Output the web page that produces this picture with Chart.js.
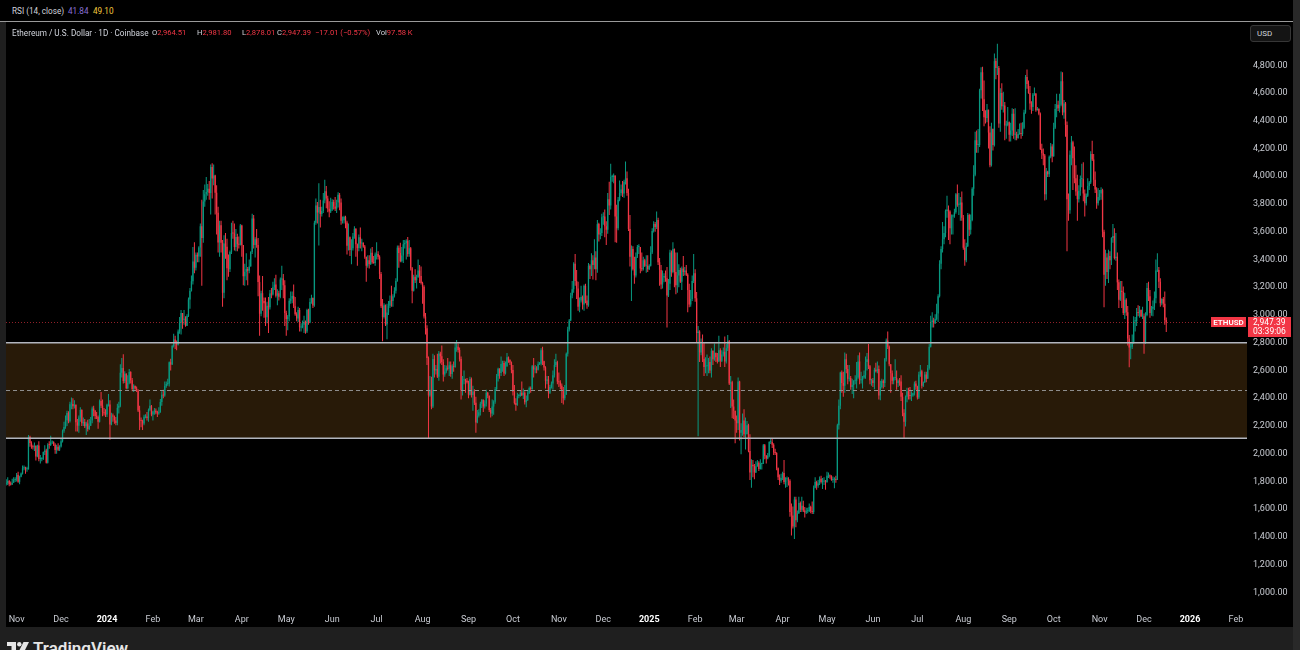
<!DOCTYPE html>
<html lang="en">
<head>
<meta charset="UTF-8" />
<title>Ethereum / U.S. Dollar - 1D</title>
<script src="https://cdn.jsdelivr.net/npm/chart.js"></script>
<style>
  html, body { margin: 0; padding: 0; background: #000; }
  body { width: 1300px; height: 650px; position: relative; overflow: hidden;
         font-family: Roboto, "Liberation Sans", sans-serif; }
  #wrap { position: absolute; left: 6px; top: 22px; width: 1287px; height: 605px; }
  .frame { position: absolute; background: #1f1f1f; }
  .txt { position: absolute; white-space: nowrap; font-size: 8.2px; line-height: 10px; color: #d1d4dc; }
  .val { font-size: 7.6px; }
  .red { color: #f23645; }
  #usd { position: absolute; left: 1250px; top: 25px; width: 33px; height: 15px; background: #141414;
         border: 1px solid #363636; border-radius: 3px; color: #d1d4dc; font-size: 8px; line-height: 15px;
         padding-left: 6px; }
  #logo { position: absolute; left: 7px; top: 640px; color: #e6e6e6; font-size: 17px; font-weight: 600;
          line-height: 17px; white-space: nowrap; }
  #logo svg { vertical-align: top; margin-top: 2px; margin-right: 4px; }
</style>
</head>
<body>
  <!-- RSI pane header -->
  <div class="txt" style="left:12px;top:6px">RSI (14, close)</div>
  <div class="txt" style="left:68px;top:6px;color:#8a70d6">41.84</div>
  <div class="txt" style="left:93px;top:6px;color:#f2c83c">49.10</div>
  <div class="frame" style="left:0;top:21px;width:1293px;height:1px;background:#9a9a9a"></div>

  <div class="frame" style="left:0;top:22px;width:6px;height:605px"></div>
  <div class="frame" style="left:1293px;top:0;width:7px;height:650px;background:#292929"></div>
  <div class="frame" style="left:0;top:627px;width:1293px;height:23px"></div>

  <div id="wrap"><canvas id="chart" width="1287" height="605"></canvas></div>

  <!-- legend -->
  <div class="txt" style="left:12px;top:28px">Ethereum / U.S. Dollar · 1D · Coinbase</div>
  <div class="txt val" style="left:152px;top:28px">O<span class="red">2,964.51</span></div>
  <div class="txt val" style="left:197px;top:28px">H<span class="red">2,981.80</span></div>
  <div class="txt val" style="left:242px;top:28px">L<span class="red">2,878.01</span></div>
  <div class="txt val" style="left:277px;top:28px">C<span class="red">2,947.39</span></div>
  <div class="txt val red" style="left:315px;top:28px">−17.01 (−0.57%)</div>
  <div class="txt val" style="left:376px;top:28px">Vol<span class="red">97.58 K</span></div>
  <div id="usd">USD</div>

  <div id="logo"><svg width="22" height="13" viewBox="0 0 22 13"><path d="M0 0h9v12h-4.5v-8h-4.5z" fill="#e6e6e6"/><circle cx="12.3" cy="2.2" r="2.2" fill="#e6e6e6"/><path d="M16.5 0h5.5l-6 12h-5.5z" fill="#e6e6e6"/></svg>TradingView</div>

<script>
  // daily candles, first one is 2023-10-25 (UTC); open of a day = close of the day before
  const startDate = Date.UTC(2023, 9, 25);
  const firstOpen = 1784;

  const closes = [
    1787,1803,1780,1777,1791,1810,1815, // 2023-10
    1847,1797,1833,1857,1895,1900,1887,1887,2122,2077,2053,2046,2055,1980,2059,1961,1961,1963,2012,2023,1934,2063,2062,2081,2084,2064,2027,2049,2029,2052, // 2023-11
    2089,2165,2192,2241,2293,2233,2357,2358,2341,2352,2226,2202,2260,2315,2220,2228,2197,2217,2177,2201,2240,2326,2310,2272,2265,2230,2379,2346,2299,2292,2282, // 2023-12
    2352,2355,2210,2269,2268,2240,2221,2331,2345,2584,2618,2524,2577,2472,2511,2588,2529,2467,2490,2469,2455,2312,2241,2236,2218,2267,2268,2257,2316,2345,2282, // 2024-01
    2304,2309,2297,2290,2298,2373,2424,2420,2487,2503,2506,2659,2642,2776,2823,2803,2786,2880,2944,3014,2966,2970,2922,2992,3112,3175,3243,3385,3340, // 2024-02
    3434,3421,3487,3640,3555,3818,3870,3887,3910,3879,4066,3984,4005,3881,3736,3523,3646,3520,3160,3516,3492,3336,3329,3454,3590,3588,3490,3562,3510,3506,3645, // 2024-03
    3505,3279,3311,3331,3319,3350,3454,3695,3505,3545,3505,3237,3009,3157,3101,3085,2984,3066,3055,3155,3147,3200,3219,3139,3156,3131,3255,3263,3215,3015, // 2024-04
    2970,2988,3103,3117,3137,3063,3005,2975,3036,2910,2912,2929,2951,2881,3035,2945,3093,3122,3069,3664,3790,3738,3779,3728,3749,3826,3892,3840,3766,3745,3761, // 2024-05
    3815,3781,3766,3810,3866,3810,3680,3683,3706,3667,3499,3560,3469,3481,3566,3621,3509,3482,3561,3515,3519,3494,3419,3354,3394,3368,3449,3380,3375,3435, // 2024-06
    3440,3420,3296,3063,2985,3070,2931,3018,3066,3102,3100,3135,3175,3245,3485,3446,3389,3428,3510,3518,3535,3440,3481,3337,3174,3276,3250,3270,3320,3280,3230, // 2024-07
    3203,2989,2905,2690,2420,2460,2340,2682,2600,2610,2555,2723,2703,2661,2570,2592,2615,2612,2637,2575,2630,2625,2765,2770,2748,2682,2457,2529,2529,2525,2515, // 2024-08
    2425,2538,2423,2449,2367,2225,2274,2298,2359,2389,2340,2360,2439,2418,2315,2290,2340,2374,2465,2560,2612,2581,2646,2653,2578,2632,2695,2675,2658,2603, // 2024-09
    2447,2365,2350,2415,2415,2440,2421,2440,2371,2386,2440,2474,2466,2630,2606,2612,2605,2645,2648,2746,2666,2621,2525,2535,2440,2480,2505,2565,2640,2660,2520, // 2024-10
    2515,2490,2460,2400,2425,2720,2895,2960,3140,3185,3370,3245,3190,3060,3105,3130,3075,3210,3105,3070,3355,3330,3395,3360,3415,3330,3655,3580,3590,3705, // 2024-11
    3710,3640,3615,3835,3790,3995,3995,4005,3710,3625,3830,3880,3905,3875,3960,3985,3880,3620,3420,3475,3330,3285,3420,3490,3490,3335,3330,3395,3355,3355,3330, // 2024-12
    3355,3450,3605,3655,3635,3685,3380,3325,3220,3270,3280,3265,3140,3225,3450,3310,3475,3310,3215,3285,3325,3240,3335,3310,3320,3290,3180,3075,3115,3245,3300, // 2025-01
    3120,2870,2880,2730,2790,2685,2625,2630,2630,2660,2600,2740,2680,2725,2695,2665,2745,2670,2715,2735,2665,2760,2810,2505,2515,2340,2310,2240, // 2025-02
    2220,2520,2150,2170,2240,2140,2140,2205,2020,1865,1920,1910,1865,1910,1935,1890,1925,1930,2060,1985,1965,1985,2085,2085,2065,2010,2005,1895,1830,1805,1825, // 2025-03
    1860,1795,1815,1815,1805,1580,1555,1475,1670,1520,1570,1645,1595,1625,1590,1575,1585,1585,1615,1585,1580,1755,1795,1770,1785,1820,1795,1800,1800,1795, // 2025-04
    1840,1840,1835,1810,1815,1815,1810,2205,2345,2585,2510,2490,2680,2610,2540,2545,2480,2495,2525,2525,2550,2665,2530,2530,2550,2565,2660,2680,2630,2530,2530, // 2025-05
    2510,2605,2595,2610,2420,2480,2525,2510,2680,2815,2770,2645,2580,2525,2545,2545,2510,2525,2520,2410,2295,2230,2410,2450,2420,2415,2420,2435,2505,2485, // 2025-06
    2405,2570,2595,2490,2515,2570,2540,2615,2770,2950,2960,2940,2970,3010,3135,3370,3475,3545,3590,3750,3760,3745,3625,3710,3715,3740,3870,3795,3795,3810,3700, // 2025-07
    3485,3395,3495,3720,3615,3685,3910,4010,4260,4225,4225,4620,4750,4555,4425,4420,4480,4315,4080,4340,4225,4830,4780,4780,4380,4600,4505,4510,4365,4370,4390, // 2025-08
    4300,4330,4450,4300,4300,4275,4305,4310,4305,4350,4460,4715,4665,4600,4525,4500,4590,4595,4475,4485,4450,4195,4165,4150,3870,4035,4015,4140,4215,4145, // 2025-09
    4350,4485,4515,4490,4515,4685,4460,4525,4370,3835,3755,4155,4245,4130,3985,3890,3835,3895,3980,3980,3875,3805,3860,3930,3955,4160,4120,3975,3905,3805,3850, // 2025-10
    3875,3900,3600,3290,3415,3310,3425,3395,3555,3570,3410,3420,3235,3110,3175,3165,3015,3110,3020,2830,2765,2770,2800,2955,2955,3020,3015,3035,2990,2990, // 2025-11
    2800,3000,3195,3135,3015,3045,3060,3120,3320,3325,3240,3085,3115,3080,2964.51,2947.39 // 2025-12
  ];

  const highs = [
    1815,1830,1810,1800,1820,1830,1830,
    1860,1870,1840,1865,1915,1915,1905,1905,2135,2130,2090,2065,2080,2060,2065,2090,1990,1975,2015,2060,2035,2075,2090,2130,2095,2090,2075,2065,2075,2060,
    2105,2175,2230,2275,2310,2305,2375,2405,2400,2385,2355,2250,2275,2335,2320,2260,2250,2230,2245,2250,2265,2340,2345,2315,2300,2275,2390,2445,2390,2330,2320,
    2360,2430,2385,2295,2290,2275,2265,2360,2375,2645,2690,2717,2595,2580,2565,2610,2595,2545,2500,2480,2485,2465,2345,2260,2245,2280,2285,2300,2325,2390,2350,
    2310,2330,2325,2310,2335,2395,2450,2460,2520,2520,2540,2665,2685,2785,2865,2850,2815,2895,2985,3035,3015,3035,2990,3005,3125,3195,3285,3490,3525,
    3450,3450,3495,3660,3830,3900,3940,3995,3945,3965,4085,4093,4085,4010,3935,3780,3680,3680,3540,3575,3590,3550,3435,3465,3665,3680,3660,3620,3585,3565,3655,
    3650,3505,3370,3445,3345,3400,3460,3730,3720,3560,3620,3555,3285,3175,3280,3125,3125,3095,3130,3180,3195,3240,3265,3290,3185,3175,3270,3355,3295,3250,
    3030,3000,3120,3170,3170,3220,3130,3020,3060,3050,2940,2960,2995,2960,3045,3045,3120,3145,3125,3680,3840,3815,3950,3830,3780,3880,3975,3930,3860,3820,3845,
    3835,3830,3850,3830,3885,3880,3840,3710,3715,3715,3680,3660,3565,3545,3590,3640,3625,3515,3580,3630,3550,3525,3505,3420,3430,3430,3480,3490,3425,3450,
    3525,3460,3430,3310,3115,3085,3075,3080,3100,3140,3210,3150,3200,3265,3500,3500,3520,3490,3540,3540,3545,3562,3540,3490,3345,3290,3330,3290,3400,3360,3350,
    3240,3215,3015,2925,2700,2560,2555,2720,2710,2640,2720,2740,2735,2780,2680,2640,2635,2690,2665,2665,2645,2665,2800,2820,2795,2765,2700,2560,2600,2540,2545,
    2525,2555,2550,2490,2465,2410,2315,2320,2375,2395,2390,2385,2460,2445,2420,2330,2390,2385,2480,2575,2620,2615,2700,2670,2670,2665,2725,2700,2680,2665,
    2640,2495,2400,2440,2430,2455,2520,2470,2450,2420,2460,2485,2485,2640,2690,2640,2630,2665,2660,2760,2770,2670,2630,2560,2560,2495,2520,2600,2680,2720,2670,
    2585,2530,2505,2480,2495,2730,2915,2970,3160,3245,3380,3440,3325,3240,3125,3210,3140,3220,3225,3140,3375,3365,3445,3430,3545,3460,3685,3665,3625,3730,
    3740,3760,3675,3880,3960,4090,4010,4020,4005,3795,3850,3970,3940,3965,3975,4107,4035,3910,3720,3500,3495,3420,3450,3505,3510,3490,3450,3420,3405,3430,3430,
    3365,3495,3625,3675,3670,3745,3700,3410,3360,3320,3300,3320,3345,3260,3470,3465,3525,3480,3450,3450,3365,3340,3350,3425,3345,3360,3300,3225,3180,3285,3440,
    3330,3165,2920,2890,2830,2860,2800,2695,2715,2690,2700,2760,2745,2795,2730,2725,2850,2760,2745,2765,2845,2790,2855,2820,2560,2525,2390,2310,
    2275,2550,2525,2220,2290,2320,2260,2235,2215,2140,1960,1955,1925,1945,1955,1945,1960,1935,2070,2070,1990,2005,2090,2105,2105,2075,2035,2010,1900,1850,1855,
    1870,1955,1830,1835,1830,1815,1640,1620,1690,1690,1590,1690,1655,1690,1660,1615,1610,1610,1640,1625,1655,1770,1830,1805,1810,1835,1840,1825,1830,1810,
    1870,1865,1850,1845,1835,1830,1840,2215,2390,2590,2600,2590,2730,2720,2640,2640,2560,2540,2530,2565,2660,2710,2730,2590,2560,2600,2700,2725,2790,2640,2540,
    2545,2620,2655,2665,2635,2525,2540,2535,2690,2830,2880,2780,2645,2600,2555,2680,2600,2535,2545,2565,2440,2320,2420,2475,2475,2480,2450,2440,2520,2525,
    2490,2590,2640,2605,2520,2590,2590,2640,2790,2995,3020,2980,3005,3080,3150,3395,3495,3670,3640,3760,3860,3790,3755,3725,3725,3765,3880,3940,3880,3850,3890,
    3720,3545,3520,3735,3730,3725,3920,4080,4320,4330,4340,4630,4785,4790,4690,4475,4520,4480,4360,4385,4345,4885,4850,4955,4795,4635,4670,4610,4535,4400,4500,
    4395,4385,4490,4485,4490,4320,4340,4380,4385,4390,4480,4730,4770,4690,4650,4540,4600,4640,4600,4500,4490,4460,4235,4200,4160,4060,4040,4150,4240,4230,
    4385,4520,4595,4545,4595,4755,4750,4550,4535,4395,3875,4185,4290,4255,4215,4080,4010,3935,4005,4090,4100,3905,3875,3985,3965,4180,4255,4160,4035,3920,3915,
    3900,3920,3910,3615,3470,3445,3470,3460,3560,3655,3625,3590,3450,3255,3245,3245,3205,3160,3120,3065,2855,2800,2860,2990,2985,3050,3070,3065,3040,3060,
    3010,3020,3230,3240,3180,3065,3105,3170,3400,3445,3345,3265,3120,3130,3170,2981.80
  ];

  const lows = [
    1770,1775,1765,1770,1775,1790,1795,
    1800,1790,1780,1830,1850,1880,1855,1870,1885,2050,2035,2030,2020,1950,1975,1945,1930,1945,1955,1990,1930,1930,2035,2055,2070,2055,2000,2000,2020,2020,
    2045,2080,2150,2180,2200,2220,2225,2320,2320,2325,2160,2160,2150,2230,2200,2200,2185,2135,2160,2170,2200,2220,2270,2250,2250,2180,2225,2330,2270,2275,2265,
    2265,2340,2100,2205,2230,2215,2205,2205,2290,2335,2550,2505,2510,2465,2465,2500,2505,2450,2445,2460,2445,2300,2170,2190,2170,2205,2255,2240,2230,2305,2270,
    2240,2280,2285,2265,2280,2295,2345,2400,2410,2475,2490,2485,2600,2640,2765,2755,2745,2780,2865,2860,2900,2930,2915,2920,2985,3045,3170,3220,3300,
    3320,3380,3380,3420,3210,3520,3780,3830,3860,3830,3725,3840,3935,3725,3580,3450,3420,3450,3060,3120,3405,3250,3275,3310,3440,3550,3465,3460,3460,3480,3500,
    3420,3215,3210,3250,3215,3300,3350,3440,3480,3415,3485,3135,2850,2990,3030,2980,2920,2940,2870,3040,3120,3140,3180,3125,3070,3105,3120,3180,3120,2920,
    2850,2890,2955,3080,3085,3050,2995,2955,2950,2880,2880,2905,2870,2865,2870,2930,2940,3080,3050,3060,3650,3660,3500,3630,3710,3735,3805,3770,3740,3705,3735,
    3750,3760,3750,3735,3775,3755,3650,3660,3660,3625,3435,3465,3425,3365,3465,3550,3420,3355,3460,3480,3460,3485,3405,3240,3340,3335,3360,3370,3370,3355,
    3400,3400,3260,3050,2810,2975,2920,2825,3000,3050,3060,3060,3125,3155,3240,3340,3380,3380,3375,3480,3400,3420,3420,3320,3085,3170,3230,3190,3270,3230,3220,
    3080,2975,2860,2640,2111,2410,2320,2330,2550,2570,2545,2525,2650,2640,2520,2555,2580,2600,2560,2555,2540,2590,2620,2735,2730,2665,2390,2420,2500,2440,2505,
    2400,2420,2405,2310,2350,2150,2220,2260,2275,2330,2300,2325,2340,2400,2300,2260,2270,2280,2360,2455,2520,2540,2560,2590,2560,2570,2625,2655,2640,2580,
    2420,2355,2310,2345,2400,2410,2415,2395,2355,2335,2380,2430,2440,2460,2550,2580,2580,2600,2640,2635,2640,2600,2470,2500,2400,2430,2470,2460,2550,2625,2500,
    2480,2465,2365,2355,2385,2425,2700,2880,2955,3120,3160,3210,3115,3030,3020,3090,3040,3030,3085,3045,3060,3260,3280,3255,3330,3250,3305,3530,3545,3570,
    3650,3560,3505,3585,3720,3760,3960,3950,3525,3520,3610,3820,3860,3850,3845,3940,3860,3605,3350,3100,3320,3225,3270,3410,3440,3300,3315,3320,3345,3305,3310,
    3325,3350,3440,3595,3600,3620,3360,3210,3185,3190,3235,3240,2910,3130,3180,3275,3300,3200,3150,3160,3200,3230,3180,3280,3285,3280,3020,3055,3060,3100,3230,
    3095,2800,2125,2660,2710,2660,2560,2580,2560,2580,2580,2550,2640,2670,2660,2650,2660,2625,2660,2700,2625,2650,2740,2495,2330,2255,2250,2075,
    2150,2170,2095,1995,2130,2120,2030,2140,2010,1810,1755,1830,1815,1860,1905,1875,1885,1885,1925,1960,1930,1960,1975,2070,2040,1990,1990,1880,1810,1775,1790,
    1810,1780,1755,1760,1770,1545,1410,1460,1385,1470,1505,1565,1580,1580,1580,1540,1565,1570,1580,1570,1565,1565,1750,1740,1755,1775,1785,1745,1775,1740,
    1790,1825,1820,1805,1790,1750,1790,1810,2175,2320,2440,2410,2440,2580,2500,2520,2460,2430,2400,2500,2470,2540,2500,2505,2470,2540,2540,2600,2610,2500,2490,
    2480,2465,2585,2580,2390,2385,2470,2470,2480,2665,2755,2630,2440,2500,2500,2530,2460,2480,2490,2380,2270,2112,2195,2370,2390,2390,2380,2410,2420,2460,
    2390,2395,2555,2470,2480,2510,2515,2540,2605,2765,2910,2910,2935,2960,2950,3125,3330,3450,3510,3560,3700,3540,3510,3580,3580,3700,3730,3780,3720,3680,3680,
    3470,3355,3380,3490,3570,3580,3675,3860,4000,4170,4170,4210,4560,4470,4360,4380,4390,4200,4065,4070,4185,4215,4700,4730,4350,4320,4480,4460,4260,4270,4360,
    4250,4250,4290,4270,4260,4260,4270,4300,4270,4290,4340,4450,4630,4595,4480,4450,4470,4580,4465,4475,4440,4190,4125,4080,3825,3830,3995,3995,4130,4100,
    4140,4340,4425,4470,4460,4505,4440,4415,4285,3460,3680,3730,4080,3900,3950,3860,3680,3810,3860,3920,3820,3710,3790,3850,3900,3945,4110,3930,3880,3765,3790,
    3825,3830,3560,3055,3210,3260,3230,3330,3360,3520,3400,3390,3180,3050,3100,3050,3000,2970,2995,2780,2623,2680,2755,2790,2880,2920,2990,2980,2985,2970,
    2720,2790,2990,3100,2980,2995,2990,3035,3085,3310,3195,3060,3070,3055,2930,2878.01
  ];

  const xTickDates = ['2023-11-01','2023-12-01','2024-01-01','2024-02-01','2024-03-01','2024-04-01','2024-05-01',
    '2024-06-01','2024-07-01','2024-08-01','2024-09-01','2024-10-01','2024-11-01','2024-12-01','2025-01-01',
    '2025-02-01','2025-03-01','2025-04-01','2025-05-01','2025-06-01','2025-07-01','2025-08-01','2025-09-01',
    '2025-10-01','2025-11-01','2025-12-01','2026-01-01','2026-02-01'];
  const xTickLabels = ['Nov','Dec','2024','Feb','Mar','Apr','May','Jun','Jul','Aug','Sep','Oct','Nov','Dec','2025',
    'Feb','Mar','Apr','May','Jun','Jul','Aug','Sep','Oct','Nov','Dec','2026','Feb'];
  const yTicks = [1000,1200,1400,1600,1800,2000,2200,2400,2600,2800,3000,3200,3400,3600,3800,4000,4200,4400,4600,4800];

  // support / resistance box drawn on the chart
  const bandTop = 2800;
  const bandBottom = 2112;
  const lastClose = 2947.39;

  const UP = '#089981', DOWN = '#f23645';

  const opens = closes.map((c, i) => (i === 0 ? firstOpen : closes[i - 1]));
  const xTickIdx = xTickDates.map(d => (Date.parse(d) - startDate) / 864e5);
  const colorOf = i => (closes[i] >= opens[i] ? UP : DOWN);
  const fmt = v => v.toLocaleString('en-US', { minimumFractionDigits: 2, maximumFractionDigits: 2 });
  const isYear = i => /^\d{4}$/.test(xTickLabels[i]);

  const overlay = {
    id: 'overlay',
    beforeDatasetsDraw(chart) {
      const { ctx, chartArea: a, scales: { y } } = chart;
      const t = y.getPixelForValue(bandTop), b = y.getPixelForValue(bandBottom);
      ctx.save();
      ctx.fillStyle = '#281a08';
      ctx.fillRect(a.left, t, a.right - a.left, b - t);
      ctx.restore();
    },
    afterDatasetsDraw(chart) {
      const { ctx, chartArea: a, scales: { y } } = chart;
      const t = y.getPixelForValue(bandTop), b = y.getPixelForValue(bandBottom);
      const m = y.getPixelForValue((bandTop + bandBottom) / 2);
      ctx.save();
      ctx.strokeStyle = '#b2b5be';
      ctx.lineWidth = 1.5;
      [t, b].forEach(py => {
        ctx.beginPath(); ctx.moveTo(a.left, py); ctx.lineTo(a.right, py); ctx.stroke();
      });
      ctx.strokeStyle = '#8e8e8e';
      ctx.lineWidth = 1;
      ctx.setLineDash([4, 3]);
      ctx.beginPath(); ctx.moveTo(a.left, Math.round(m) + 0.5); ctx.lineTo(a.right, Math.round(m) + 0.5); ctx.stroke();

      // last price line
      const py = Math.round(y.getPixelForValue(lastClose)) + 0.5;
      ctx.strokeStyle = 'rgba(242,54,69,0.6)';
      ctx.setLineDash([1, 2]);
      ctx.beginPath(); ctx.moveTo(a.left, py); ctx.lineTo(a.right, py); ctx.stroke();
      ctx.restore();
    },
    afterDraw(chart) {
      const { ctx, chartArea: a, scales: { y } } = chart;
      const py = Math.round(y.getPixelForValue(lastClose));
      ctx.save();
      ctx.fillStyle = DOWN;
      ctx.fillRect(a.right - 36, py - 5, 35, 10);
      ctx.fillRect(a.right + 1, py - 5, 43, 20);
      ctx.fillStyle = '#ffffff';
      ctx.textBaseline = 'middle';
      ctx.font = '600 8px Roboto, "Liberation Sans", sans-serif';
      ctx.textAlign = 'center';
      ctx.fillText('ETHUSD', a.right - 18.5, py + 0.5);
      ctx.font = '8.5px Roboto, "Liberation Sans", sans-serif';
      ctx.textAlign = 'left';
      ctx.fillText(fmt(lastClose), a.right + 6, py + 0.5);
      ctx.fillText('03:39:06', a.right + 6, py + 10);
      ctx.restore();
    }
  };

  Chart.defaults.font.family = 'Roboto, "Liberation Sans", sans-serif';

  new Chart(document.getElementById('chart'), {
    type: 'bar',
    data: {
      datasets: [
        {
          label: 'wick',
          data: closes.map((c, i) => ({ x: i, y: [Math.min(lows[i], opens[i], c), Math.max(highs[i], opens[i], c)] })),
          backgroundColor: ctx => colorOf(ctx.dataIndex),
          barThickness: 1,
          inflateAmount: 0,
          grouped: false,
          order: 2
        },
        {
          label: 'body',
          data: closes.map((c, i) => ({ x: i, y: [opens[i], c] })),
          backgroundColor: ctx => colorOf(ctx.dataIndex),
          barThickness: 1.3,
          minBarLength: 1,
          inflateAmount: 0,
          grouped: false,
          order: 1
        }
      ]
    },
    options: {
      responsive: false,
      animation: false,
      events: [],
      layout: { padding: 0 },
      plugins: { legend: { display: false }, tooltip: { enabled: false } },
      scales: {
        x: {
          type: 'linear',
          min: -0.17,
          max: 837.5,
          offset: false,
          grid: { display: false, drawTicks: false },
          border: { display: false },
          afterBuildTicks: s => { s.ticks = xTickIdx.map(v => ({ value: v })); },
          afterFit: s => { s.height = 22; s.paddingLeft = 0; s.paddingRight = 0; },
          ticks: {
            autoSkip: false,
            maxRotation: 0,
            padding: 9,
            color: c => (isYear(c.index) ? '#ffffff' : '#c9ccd3'),
            font: c => ({ size: 9, weight: isYear(c.index) ? 'bold' : 'normal' }),
            callback: (v, i) => xTickLabels[i]
          }
        },
        y: {
          position: 'right',
          min: 909,
          max: 5112,
          grid: { display: false, drawTicks: false },
          border: { display: false },
          afterBuildTicks: s => { s.ticks = yTicks.map(v => ({ value: v })); },
          afterFit: s => { s.width = 46; s.paddingTop = 0; s.paddingBottom = 0; },
          ticks: {
            padding: 6,
            color: '#c9ccd3',
            font: { size: 9 },
            callback: v => fmt(v)
          }
        }
      }
    },
    plugins: [overlay]
  });
</script>
</body>
</html>
